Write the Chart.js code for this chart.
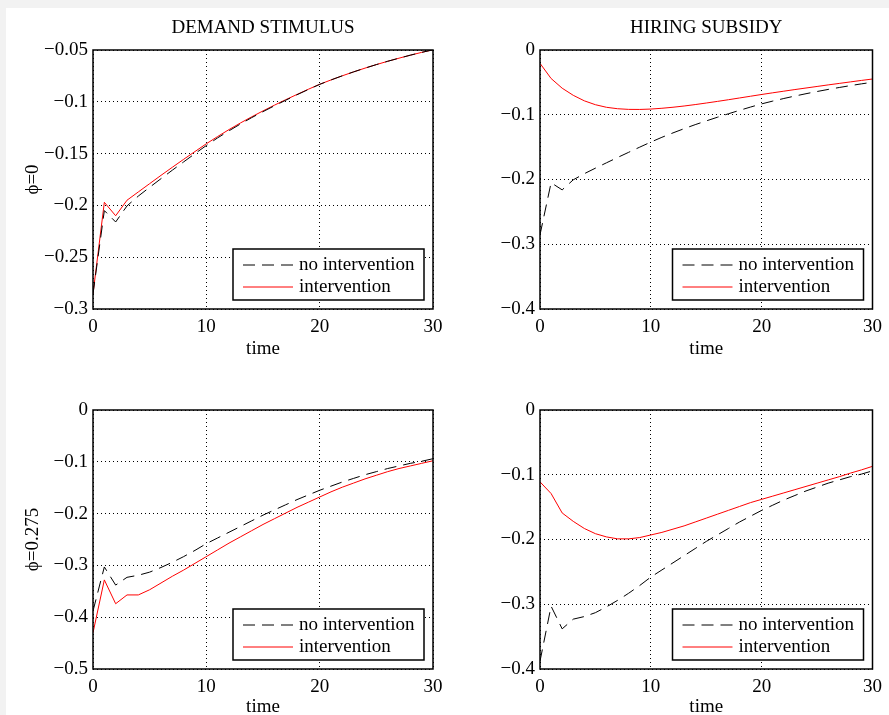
<!DOCTYPE html>
<html>
<head>
<meta charset="utf-8">
<script src="https://cdn.jsdelivr.net/npm/chart.js@4.4.0/dist/chart.umd.min.js"></script>
<style>
    body { margin: 0; width: 889px; height: 715px; overflow: hidden; position: relative; background: #f2f2f2; }
    #sheet { position: absolute; left: 6px; top: 8px; right: 0; bottom: 0; background: #fff; }
    canvas { position: absolute; }
</style>
</head>
<body>
<div id="sheet"></div>
<canvas id="tl" width="444" height="352" style="left:6px;top:8px"></canvas>
<canvas id="tr" width="439" height="352" style="left:450px;top:8px"></canvas>
<canvas id="bl" width="444" height="358" style="left:6px;top:360px"></canvas>
<canvas id="br" width="439" height="358" style="left:450px;top:360px"></canvas>
<script>
// Time axis (periods)
const time = [0, 1, 2, 3, 4, 5, 6, 7, 8, 9, 10, 11, 12, 13, 14, 15, 16, 17, 18, 19, 20,
              21, 22, 23, 24, 25, 26, 27, 28, 29, 30];
const xTicks = [0, 10, 20, 30];

// No intervention paths (same for both policies at a given phi)
const noIntPhi0 = [-0.2855, -0.205, -0.216, -0.2005, -0.191, -0.1825, -0.1742, -0.1660, -0.1580, -0.1500,
                   -0.1422, -0.1348, -0.1280, -0.1215, -0.1153, -0.1095, -0.1039, -0.0985, -0.0932, -0.0881,
                   -0.0832, -0.0789, -0.0749, -0.0711, -0.0675, -0.0641, -0.0609, -0.0579, -0.0550, -0.0523, -0.0498];
const noIntPhi275 = [-0.388, -0.303, -0.338, -0.323, -0.319, -0.313, -0.304, -0.294, -0.283, -0.271,
                     -0.258, -0.247, -0.236, -0.225, -0.214, -0.203, -0.193, -0.183, -0.173, -0.164,
                     -0.155, -0.147, -0.139, -0.132, -0.125, -0.119, -0.113, -0.108, -0.103, -0.099, -0.094];

// Intervention paths
const demandPhi0 = [-0.2855, -0.197, -0.210, -0.195, -0.187, -0.1790, -0.1710, -0.1632, -0.1555, -0.1480,
                    -0.1405, -0.1335, -0.1268, -0.1205, -0.1145, -0.1088, -0.1033, -0.0980, -0.0929, -0.0879,
                    -0.0831, -0.0789, -0.0749, -0.0711, -0.0675, -0.0641, -0.0609, -0.0579, -0.0550, -0.0523, -0.0498];
const hiringPhi0 = [-0.0206, -0.044, -0.059, -0.070, -0.0785, -0.0845, -0.0885, -0.0907, -0.0917, -0.0918,
                    -0.0912, -0.0900, -0.0884, -0.0865, -0.0843, -0.0819, -0.0794, -0.0768, -0.0741, -0.0714,
                    -0.0687, -0.0661, -0.0636, -0.0611, -0.0587, -0.0563, -0.0539, -0.0516, -0.0493, -0.0470, -0.0448];
const demandPhi275 = [-0.430, -0.328, -0.374, -0.357, -0.357, -0.347, -0.334, -0.321, -0.309, -0.296,
                      -0.283, -0.270, -0.257, -0.245, -0.233, -0.221, -0.210, -0.199, -0.188, -0.178,
                      -0.168, -0.158, -0.149, -0.141, -0.133, -0.126, -0.119, -0.113, -0.108, -0.103, -0.098];
const hiringPhi275 = [-0.111, -0.129, -0.159, -0.172, -0.183, -0.191, -0.196, -0.199, -0.199, -0.197,
                      -0.193, -0.189, -0.184, -0.179, -0.173, -0.167, -0.161, -0.155, -0.149, -0.143,
                      -0.138, -0.133, -0.128, -0.123, -0.118, -0.113, -0.108, -0.103, -0.0975, -0.0925, -0.087];

// Y tick values per panel
const yTicksTL = [-0.3, -0.25, -0.2, -0.15, -0.1, -0.05];
const yTicksTR = [-0.4, -0.3, -0.2, -0.1, 0];
const yTicksBL = [-0.5, -0.4, -0.3, -0.2, -0.1, 0];
const yTicksBR = [-0.4, -0.3, -0.2, -0.1, 0];

const FONT_FAMILY = "'Liberation Serif', 'Times New Roman', serif";
const font = { family: FONT_FAMILY, size: 19 };

Chart.defaults.animation = false;

// Axis frame, panel title and boxed legend inside the plot
const panelPlugin = {
    id: 'panel',
    afterDraw(chart, args, opts) {
        const { ctx, chartArea: a } = chart;
        ctx.save();
        ctx.strokeStyle = '#000';
        ctx.lineWidth = 1.5;
        ctx.strokeRect(a.left, a.top, a.right - a.left, a.bottom - a.top);

        ctx.fillStyle = '#000';
        ctx.font = `19px ${FONT_FAMILY}`;
        if (opts.title) {
            ctx.textAlign = 'center';
            ctx.textBaseline = 'middle';
            ctx.fillText(opts.title, (a.left + a.right) / 2, a.top - 22);
        }

        // legend box
        const w = 191, h = 51;
        const x0 = a.right - 9 - w, y0 = a.bottom - 9 - h;
        ctx.fillStyle = '#fff';
        ctx.fillRect(x0, y0, w, h);
        ctx.strokeRect(x0, y0, w, h);
        ctx.textAlign = 'left';
        ctx.textBaseline = 'middle';
        chart.data.datasets.forEach((ds, i) => {
            const y = y0 + 16 + i * 22;
            ctx.beginPath();
            ctx.strokeStyle = ds.borderColor;
            ctx.lineWidth = ds.borderWidth;
            ctx.setLineDash(ds.borderDash || []);
            ctx.moveTo(x0 + 10, y);
            ctx.lineTo(x0 + 60, y);
            ctx.stroke();
            ctx.setLineDash([]);
            ctx.fillStyle = '#000';
            ctx.fillText(ds.label, x0 + 66, y);
        });
        ctx.restore();
    }
};

function fmtTick(v) {
    if (Math.abs(v) < 1e-9) return '0';
    return '\u2212' + parseFloat(Math.abs(v).toFixed(3));
}

function toPoints(arr) {
    return time.map((t, i) => ({ x: t, y: arr[i] }));
}

function makePanel(id, cfg) {
    const ctx = document.getElementById(id).getContext('2d');
    new Chart(ctx, {
        type: 'line',
        data: {
            datasets: [{
                label: 'no intervention',
                data: toPoints(cfg.base),
                borderColor: '#000',
                borderWidth: 1,
                borderDash: [12, 7],
                pointRadius: 0,
                tension: 0
            }, {
                label: 'intervention',
                data: toPoints(cfg.policy),
                borderColor: '#ff0000',
                borderWidth: 1,
                pointRadius: 0,
                tension: 0
            }]
        },
        plugins: [panelPlugin],
        options: {
            responsive: false,
            layout: { padding: { top: cfg.top, right: cfg.right, bottom: 0, left: 0 } },
            plugins: {
                legend: { display: false },
                tooltip: { enabled: false },
                panel: { title: cfg.title }
            },
            scales: {
                x: {
                    type: 'linear',
                    min: 0,
                    max: 30,
                    afterBuildTicks: s => { s.ticks = xTicks.map(v => ({ value: v })); },
                    afterFit: s => { s.height = cfg.xHeight; },
                    grid: { color: '#000', drawTicks: false },
                    border: { display: false, dash: [1, 3] },
                    ticks: { padding: 7, color: '#000', font: font },
                    title: { display: true, text: 'time', color: '#000', font: font, padding: { top: 0, bottom: 0 } }
                },
                y: {
                    type: 'linear',
                    min: cfg.yTicks[0],
                    max: cfg.yTicks[cfg.yTicks.length - 1],
                    afterBuildTicks: s => { s.ticks = cfg.yTicks.map(v => ({ value: v })); },
                    afterFit: s => { s.width = cfg.yWidth; },
                    grid: { color: '#000', drawTicks: false },
                    border: { display: false, dash: [1, 3] },
                    ticks: { padding: 5, color: '#000', font: font, callback: fmtTick },
                    title: {
                        display: !!cfg.yTitle,
                        text: cfg.yTitle || '',
                        color: '#000',
                        font: font,
                        padding: { top: 16, bottom: 0 }
                    }
                }
            }
        }
    });
}

makePanel('tl', { base: noIntPhi0, policy: demandPhi0, yTicks: yTicksTL, title: 'DEMAND STIMULUS',
                  yTitle: '\u03d5=0', top: 42, right: 17, yWidth: 87, xHeight: 51 });
makePanel('tr', { base: noIntPhi0, policy: hiringPhi0, yTicks: yTicksTR, title: 'HIRING SUBSIDY',
                  top: 42, right: 10, yWidth: 90, xHeight: 51 });
makePanel('bl', { base: noIntPhi275, policy: demandPhi275, yTicks: yTicksBL,
                  yTitle: '\u03d5=0.275', top: 50, right: 17, yWidth: 87, xHeight: 49 });
makePanel('br', { base: noIntPhi275, policy: hiringPhi275, yTicks: yTicksBR,
                  top: 50, right: 10, yWidth: 90, xHeight: 49 });
</script>
</body>
</html>
